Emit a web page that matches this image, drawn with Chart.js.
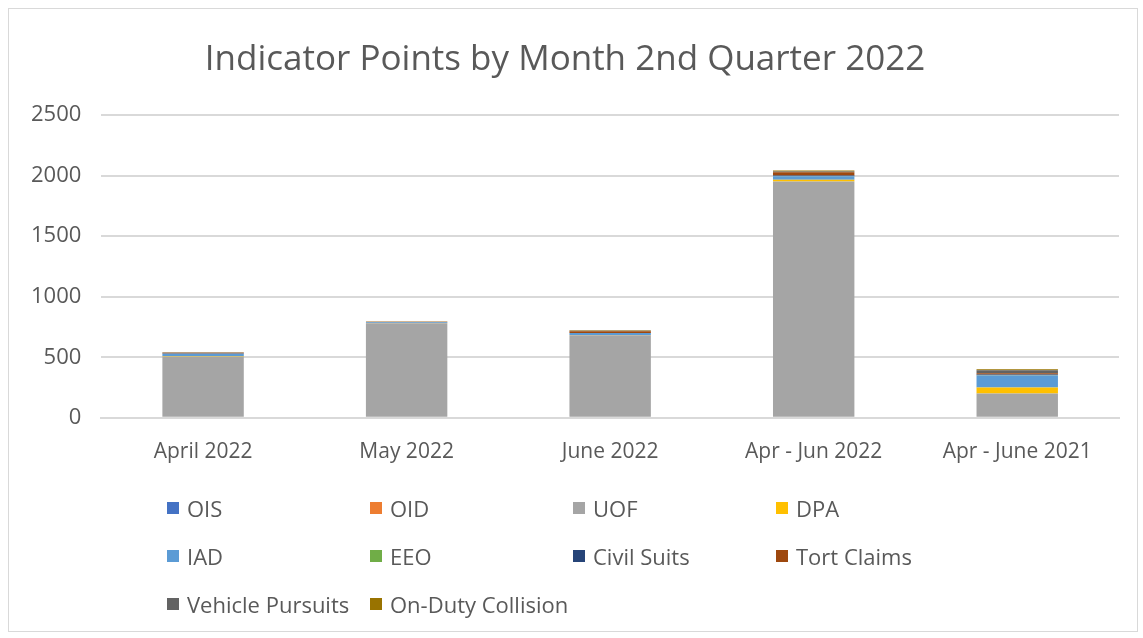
<!DOCTYPE html>
<html>
<head>
<meta charset="utf-8">
<script src="https://cdn.jsdelivr.net/npm/chart.js@4"></script>
<style>
  body { margin: 0; background: #fff; font-family: "Open Sans", "Liberation Sans", sans-serif; }
  #wrap { position: absolute; left: 8px; top: 8px; width: 1130px; height: 624px; border: 1px solid #d9d9d9; box-sizing: border-box; }
  #myChart { position: absolute; left: 0; top: 0; }
  #legend { position: absolute; left: 158px; top: 487px; display: grid; grid-template-columns: repeat(4, 203px); row-gap: 24px; }
  .item { display: flex; align-items: center; font-size: 22px; color: #595959; height: 24px; white-space: nowrap; }
  .box { width: 12px; height: 12px; margin-right: 8px; flex: none; }
</style>
</head>
<body>
<div id="wrap">
  <canvas id="myChart" width="1128" height="622"></canvas>
  <div id="legend"></div>
</div>
<script>
const months = ['April 2022', 'May 2022', 'June 2022', 'Apr - Jun 2022', 'Apr - June 2021']
const ois = [0, 0, 0, 0, 0]
const oid = [0, 0, 0, 0, 0]
const uof = [505, 780, 682, 1950, 200]
const dpa = [3, 2, 2, 15, 50]
const iad = [20, 6, 16, 30, 100]
const eeo = [1, 0, 0, 2, 2]
const civilSuits = [1, 1, 1, 3, 5]
const tortClaims = [8, 4, 14, 28, 10]
const vehiclePursuits = [2, 1, 3, 6, 25]
const collision = [2, 1, 4, 8, 8]

const series = [
  ['OIS', ois, '#4472C4'],
  ['OID', oid, '#ED7D31'],
  ['UOF', uof, '#A5A5A5'],
  ['DPA', dpa, '#FFC000'],
  ['IAD', iad, '#5B9BD5'],
  ['EEO', eeo, '#70AD47'],
  ['Civil Suits', civilSuits, '#264478'],
  ['Tort Claims', tortClaims, '#9E480E'],
  ['Vehicle Pursuits', vehiclePursuits, '#636363'],
  ['On-Duty Collision', collision, '#997300']
]

const ctx = document.getElementById('myChart');

const chart = new Chart(ctx, {
  type: 'bar',
  data: {
    labels: months,
    datasets: series.map(s => ({
      label: s[0],
      data: s[1],
      backgroundColor: s[2],
      barPercentage: 0.4,
      categoryPercentage: 1
    }))
  },
  options: {
    responsive: false,
    animation: false,
    layout: { padding: { left: 2, right: 18, top: 0, bottom: 152 } },
    plugins: {
      legend: { display: false },
      tooltip: { enabled: false },
      title: {
        display: true,
        text: 'Indicator Points by Month 2nd Quarter 2022',
        color: '#595959',
        font: { size: 35, family: '"Open Sans"', weight: 'normal' },
        padding: { top: 30, bottom: 34 }
      }
    },
    scales: {
      x: {
        stacked: true,
        grid: { display: false },
        border: { color: '#d9d9d9', width: 2 },
        ticks: { color: '#595959', font: { size: 21, family: '"Open Sans"' }, padding: 14 }
      },
      y: {
        stacked: true,
        min: 0,
        max: 2500,
        ticks: {
          stepSize: 500,
          color: '#595959',
          font: { size: 22, family: '"Open Sans"' },
          padding: 20,
          callback: v => String(v)
        },
        grid: { color: '#d9d9d9', lineWidth: 2, drawTicks: false },
        border: { display: false }
      }
    }
  }
});

const legend = document.getElementById('legend');
series.forEach(s => {
  const d = document.createElement('div');
  d.className = 'item';
  d.innerHTML = '<span class="box" style="background:' + s[2] + '"></span>' + s[0];
  legend.appendChild(d);
});
</script>
</body>
</html>
